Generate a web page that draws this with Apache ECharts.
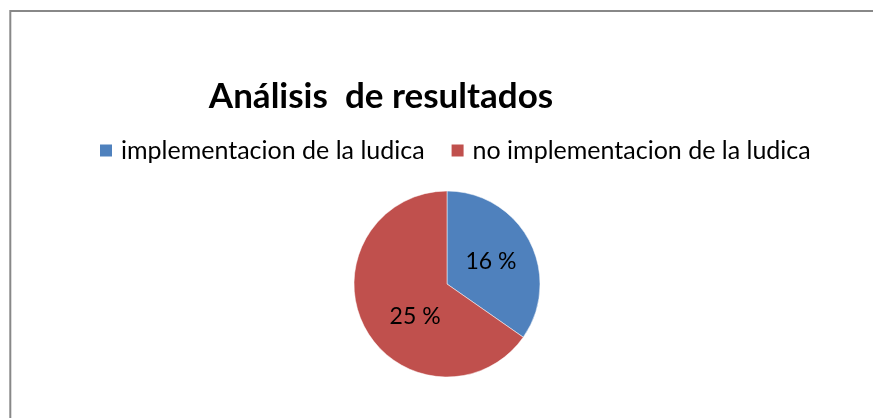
<!DOCTYPE html>
<html>
<head>
<meta charset="utf-8">
<script src="https://cdn.jsdelivr.net/npm/echarts@6/dist/echarts.min.js"></script>
<style>
html,body{margin:0;padding:0;background:#fff;}
#c{width:873px;height:418px;}
</style>
</head>
<body>
<div id="c"></div>
<script>
var categories = ["implementacion de la ludica", "no implementacion de la ludica"];
var shares = [34.7, 65.3];
var labels = ["16 %", "25 %"];
var colors = ["#4f81bd", "#c0504d"];

var chart = echarts.init(document.getElementById('c'));
var FONT = 'Lato';
chart.setOption({
  animation: false,
  graphic: [{
    type: 'rect', silent: true,
    shape: { x: 10.3, y: 11, width: 1000, height: 600 },
    style: { fill: 'none', stroke: '#888888', lineWidth: 2 }
  }],
  title: {
    text: 'Análisis  de resultados',
    left: 381, top: 79, textAlign: 'center', padding: 0,
    textStyle: { fontFamily: FONT, fontWeight: 'bold', fontSize: 35, color: '#000' }
  },
  legend: {
    data: categories,
    left: 98, top: 138, padding: 0,
    itemWidth: 14, itemHeight: 14, itemGap: 25,
    icon: 'rect',
    textStyle: { fontFamily: FONT, fontSize: 25, color: '#000', padding: [0, 0, 0, 3] }
  },
  series: [{
    type: 'pie',
    center: [447, 284],
    radius: 93,
    startAngle: 90,
    clockwise: true,
    silent: true,
    label: {
      show: true, position: 'inside',
      fontFamily: FONT, fontSize: 23, color: '#000',
      formatter: function (p) { return labels[p.dataIndex]; }
    },
    labelLine: { show: false },
    itemStyle: { borderColor: '#fff', borderWidth: 0.5 },
    data: categories.map(function (n, i) {
      var d = { name: n, value: shares[i], itemStyle: { color: colors[i] } };
      if (i === 1) d.label = { offset: [12, 10] };
      return d;
    })
  }]
});
</script>
</body>
</html>
